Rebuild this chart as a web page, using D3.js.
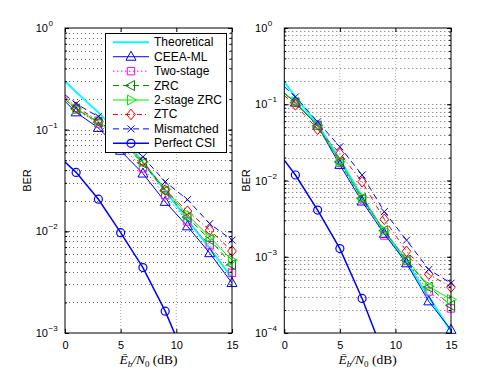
<!DOCTYPE html>
<html>
<head>
<meta charset="utf-8">
<script src="https://cdnjs.cloudflare.com/ajax/libs/d3/7.8.5/d3.min.js"></script>
<style>
body{margin:0;background:#fff;}
</style>
</head>
<body>
<svg id="mainSvg" width="498" height="375"></svg>
<script>
var snrPoints = [0,1,3,5,7,9,11,13,15];
var seriesNames = ["Theoretical","CEEA-ML","Two-stage","ZRC","2-stage ZRC","ZTC","Mismatched","Perfect CSI"];
var xTicks = [0,5,10,15];

// left panel BER values
var leftTheoretical = [0.30,0.235,0.148,0.088,0.048,0.025,0.0130,0.0068,0.0035];
var leftCeea        = [0.19,0.148,0.104,0.062,0.037,0.0195,0.0112,0.0061,0.0031];
var leftTwoStage    = [0.20,0.158,0.115,0.070,0.0417,0.0227,0.0125,0.0073,0.0039];
var leftZrc         = [0.20,0.160,0.118,0.075,0.047,0.025,0.0138,0.0083,0.0047];
var leftTwoStageZrc = [0.20,0.160,0.120,0.077,0.048,0.026,0.0145,0.0088,0.0052];
var leftZtc         = [0.21,0.166,0.124,0.080,0.049,0.0255,0.0158,0.0103,0.0064];
var leftMismatched  = [0.22,0.180,0.134,0.085,0.054,0.0307,0.0205,0.0119,0.0082];
var leftPerfect     = [0.048,0.038,0.0207,0.0097,0.0044,0.00164,0.0005];

// right panel BER values
var rightTheoretical = [0.197,0.125,0.055,0.019,0.0061,0.0021,0.00085,0.0003,0.000105];
var rightCeea        = [0.14,0.105,0.052,0.016,0.0053,0.0020,0.00082,0.00026,0.00011];
var rightTwoStage    = [0.14,0.105,0.052,0.017,0.0057,0.0019,0.00088,0.00035,0.00021];
var rightZrc         = [0.14,0.105,0.052,0.0175,0.0058,0.0022,0.0009,0.00040,0.00023];
var rightTwoStageZrc = [0.14,0.108,0.053,0.0176,0.0060,0.0022,0.00092,0.00041,0.000275];
var rightZtc         = [0.13,0.098,0.047,0.0226,0.0096,0.0031,0.00118,0.00059,0.00040];
var rightMismatched  = [0.17,0.125,0.059,0.0277,0.0118,0.0039,0.00165,0.00068,0.00045];
var rightPerfect     = [0.0185,0.0118,0.0041,0.00128,0.000284,0.00005];

var seriesStyle = [
    {color:"#00ffff", dash:null,      width:2,   marker:"none"},
    {color:"#0000ff", dash:null,      width:1,   marker:"up"},
    {color:"#ff00ff", dash:"1.5,2.5", width:1,   marker:"square"},
    {color:"#008000", dash:"6,4",     width:1,   marker:"left"},
    {color:"#00ee00", dash:null,      width:1,   marker:"right"},
    {color:"#ff0000", dash:"5,3,1,3", width:1,   marker:"diamond"},
    {color:"#0000ff", dash:"6,4",     width:1,   marker:"cross"},
    {color:"#0000ff", dash:null,      width:1.5, marker:"circle"}
];

var panels = [
    {left:65, right:232, top:28, bottom:333, yMin:1e-3, labelX:27, legend:true,
     series:[leftTheoretical,leftCeea,leftTwoStage,leftZrc,leftTwoStageZrc,leftZtc,leftMismatched,leftPerfect]},
    {left:284.3, right:451, top:28, bottom:333, yMin:1e-4, labelX:246, legend:false,
     series:[rightTheoretical,rightCeea,rightTwoStage,rightZrc,rightTwoStageZrc,rightZtc,rightMismatched,rightPerfect]}
];

var svg = d3.select("#mainSvg");
var defs = svg.append("defs");

function markerPath(type){
    if(type == "up") return "M0,-5.5L5,3.5L-5,3.5Z";
    if(type == "left") return "M-5.5,0L3.5,-5L3.5,5Z";
    if(type == "right") return "M5.5,0L-3.5,-5L-3.5,5Z";
    if(type == "square") return "M-3.7,-3.7H3.7V3.7H-3.7Z";
    if(type == "diamond") return "M0,-5.3L4.3,0L0,5.3L-4.3,0Z";
    if(type == "cross") return "M-3.5,-3.5L3.5,3.5M-3.5,3.5L3.5,-3.5";
    return "";
}

function drawMarker(g, type, color, cx, cy){
    if(type == "none") return;
    if(type == "circle"){
        g.append("circle")
        .attr("cx",cx).attr("cy",cy).attr("r",4)
        .attr("fill","none").attr("stroke",color).attr("stroke-width",1.2);
        return;
    }
    g.append("path")
    .attr("d",markerPath(type))
    .attr("transform","translate("+cx+","+cy+")")
    .attr("fill","none")
    .attr("stroke",color)
    .attr("stroke-width",1);
}

function drawPanel(p, idx){
    var x = d3.scaleLinear().domain([0,15]).range([p.left,p.right]);
    var y = d3.scaleLog().domain([p.yMin,1]).range([p.bottom,p.top]);
    var g = svg.append("g").attr("class","panel"+idx);

    defs.append("clipPath").attr("id","clip"+idx)
    .append("rect")
    .attr("x",p.left).attr("y",p.top)
    .attr("width",p.right-p.left).attr("height",p.bottom-p.top);

    // grid
    var minorVals = [];
    for(var d = Math.round(Math.log10(p.yMin)); d < 0; d++){
        for(var k = 1; k < 10; k++){
            if(k == 1 && d == Math.round(Math.log10(p.yMin))) continue;
            minorVals.push(k*Math.pow(10,d));
        }
    }
    g.selectAll(".hgrid")
    .data(minorVals)
    .enter()
    .append("line")
    .attr("x1",p.left).attr("x2",p.right)
    .attr("y1",function(v){ return Math.round(y(v))+0.5; })
    .attr("y2",function(v){ return Math.round(y(v))+0.5; })
    .attr("stroke","#666")
    .attr("stroke-width",1)
    .attr("stroke-dasharray","1,3");

    g.selectAll(".vgrid")
    .data([5,10])
    .enter()
    .append("line")
    .attr("x1",function(v){ return x(v); })
    .attr("x2",function(v){ return x(v); })
    .attr("y1",p.top).attr("y2",p.bottom)
    .attr("stroke","#aaa")
    .attr("stroke-width",1)
    .attr("stroke-dasharray","1,2");

    // curves
    var line = d3.line()
        .x(function(d){ return x(d[0]); })
        .y(function(d){ return y(d[1]); });

    var plotG = g.append("g").attr("clip-path","url(#clip"+idx+")");
    var markG = g.append("g");

    p.series.forEach(function(vals, si){
        var st = seriesStyle[si];
        var pts = vals.map(function(v,i){ return [snrPoints[i], v]; });
        plotG.append("path")
        .attr("d",line(pts))
        .attr("fill","none")
        .attr("stroke",st.color)
        .attr("stroke-width",st.width)
        .attr("stroke-dasharray",st.dash);
        pts.forEach(function(pt,i){
            if(i == 0 || pt[1] < p.yMin) return;
            drawMarker(markG, st.marker, st.color, x(pt[0]), y(pt[1]));
        });
    });

    // axes with inward ticks
    var fontAttr = function(sel){
        sel.attr("font-family","'Liberation Sans', Arial, sans-serif").attr("font-size",11);
    };
    var majorVals = [];
    for(var e = Math.round(Math.log10(p.yMin)); e <= 0; e++) majorVals.push(Math.pow(10,e));

    var axB = g.append("g").attr("transform","translate(0,"+p.bottom+")")
        .call(d3.axisBottom(x).tickValues(xTicks).tickSizeInner(-4).tickSizeOuter(0).tickPadding(8).tickFormat(d3.format("d")));
    axB.call(fontAttr);
    axB.selectAll("text").attr("fill","#000");
    g.append("g").attr("transform","translate(0,"+p.top+")")
        .call(d3.axisTop(x).tickValues(xTicks).tickSizeInner(-4).tickSizeOuter(0).tickFormat(""));
    g.append("g").attr("transform","translate("+p.left+",0)")
        .call(d3.axisLeft(y).tickValues(majorVals).tickSizeInner(-4).tickSizeOuter(0).tickFormat(""));
    g.append("g").attr("transform","translate("+p.left+",0)")
        .call(d3.axisLeft(y).tickValues(minorVals).tickSizeInner(-2).tickSizeOuter(0).tickFormat(""));
    g.append("g").attr("transform","translate("+p.right+",0)")
        .call(d3.axisRight(y).tickValues(majorVals).tickSizeInner(-4).tickSizeOuter(0).tickFormat(""));
    g.append("g").attr("transform","translate("+p.right+",0)")
        .call(d3.axisRight(y).tickValues(minorVals).tickSizeInner(-2).tickSizeOuter(0).tickFormat(""));
    g.selectAll(".domain").attr("stroke","none");
    g.selectAll(".tick line").attr("stroke","#000");

    g.append("rect")
    .attr("x",p.left).attr("y",p.top)
    .attr("width",p.right-p.left).attr("height",p.bottom-p.top)
    .attr("fill","none").attr("stroke","#000").attr("stroke-width",1);

    // y tick labels 10^e
    majorVals.forEach(function(v){
        var ty = y(v);
        var ex = Math.round(Math.log10(v));
        g.append("text")
        .attr("x",p.left-17).attr("y",ty+4)
        .attr("text-anchor","end")
        .call(fontAttr)
        .text("10");
        g.append("text")
        .attr("x",p.left-16.5).attr("y",ty-2)
        .attr("font-family","'Liberation Sans', Arial, sans-serif")
        .attr("font-size",8)
        .text(ex == 0 ? "0" : "\u2212"+(-ex));
    });

    // axis labels
    g.append("text")
    .attr("transform","translate("+p.labelX+","+((p.top+p.bottom)/2)+") rotate(-90)")
    .attr("text-anchor","middle")
    .attr("dy","0.35em")
    .call(fontAttr)
    .text("BER");

    var xl = g.append("text")
    .attr("x",(p.left+p.right)/2).attr("y",364)
    .attr("text-anchor","middle")
    .attr("font-family","'Liberation Serif', 'DejaVu Serif', serif")
    .attr("font-size",13.5);
    xl.append("tspan").attr("font-style","italic").text("\u0112");
    xl.append("tspan").attr("font-style","italic").attr("font-size",9).attr("dy",3).text("b");
    xl.append("tspan").attr("font-style","italic").attr("dy",-3).text("/N");
    xl.append("tspan").attr("font-size",9).attr("dy",3).text("0");
    xl.append("tspan").attr("dy",-3).text(" (dB)");

    if(p.legend) drawLegend();
}

function drawLegend(){
    var lg = svg.append("g").attr("class","legendGroup");
    lg.append("rect")
    .attr("x",105.5).attr("y",33.5)
    .attr("width",121).attr("height",119)
    .attr("fill","#fff").attr("stroke","#000").attr("stroke-width",1);

    var rows = lg.selectAll(".legRow")
        .data(seriesNames)
        .enter()
        .append("g")
        .attr("transform",function(d,i){ return "translate(0,"+(42.3+i*14.43)+")"; });

    rows.each(function(d,i){
        var st = seriesStyle[i];
        var r = d3.select(this);
        r.append("line")
        .attr("x1",113).attr("x2",149).attr("y1",0).attr("y2",0)
        .attr("stroke",st.color)
        .attr("stroke-width",st.width)
        .attr("stroke-dasharray",st.dash);
        drawMarker(r, st.marker, st.color, 131, 0);
        r.append("text")
        .attr("x",154).attr("y",4)
        .attr("font-family","'Liberation Sans', Arial, sans-serif")
        .attr("font-size",12)
        .text(d);
    });
}

panels.forEach(drawPanel);
</script>
</body>
</html>
